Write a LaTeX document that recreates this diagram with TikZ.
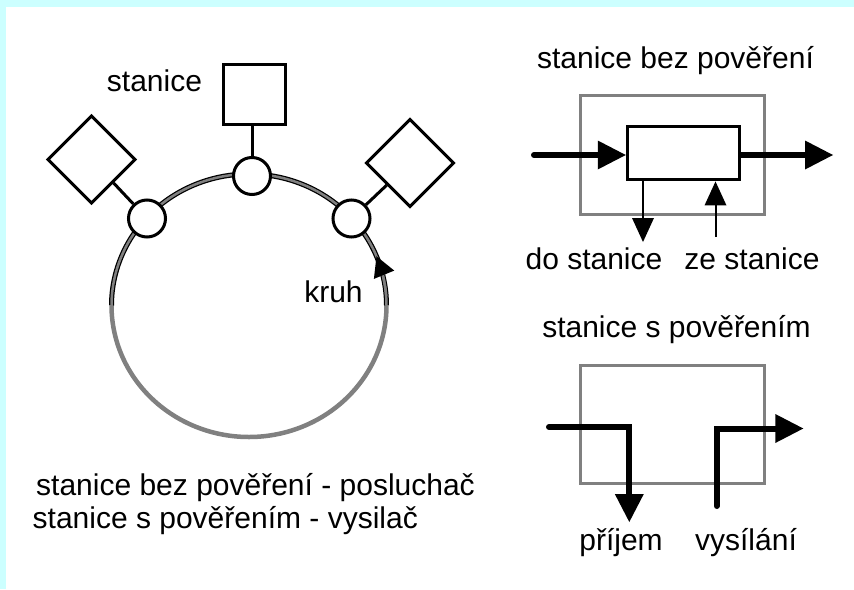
\documentclass[tikz,border=0pt]{standalone}
\usepackage{fontspec}
\setmainfont{Liberation Sans}
\usetikzlibrary{arrows.meta}
\definecolor{bordercyan}{RGB}{204,255,255}
\definecolor{ringgray}{RGB}{128,128,128}
\begin{document}
\begin{tikzpicture}[x=1pt,y=-1pt,
  txt/.style={inner sep=0pt, font=\fontsize{30}{36}\selectfont, anchor=base},
  txtw/.style={inner sep=0pt, font=\fontsize{30}{36}\selectfont, anchor=base west},
  stbox/.style={draw, line width=3pt, fill=white, minimum width=62pt, minimum height=60pt, inner sep=0pt},
  stdiam/.style={draw, line width=3pt, fill=white, minimum width=61.4pt, minimum height=61.4pt, inner sep=0pt, rotate=45},
  tap/.style={circle, draw, line width=3pt, fill=white, minimum size=37pt, inner sep=0pt},
  stem/.style={line width=3pt},
  framebox/.style={draw=ringgray, line width=3pt, inner sep=0pt},
  innerbox/.style={draw, line width=3.5pt, inner sep=0pt},
  fatarrow/.style={line width=6pt, line cap=round, line join=miter, -{Triangle[length=28pt,width=29pt,line width=0pt]}},
  slimarrow/.style={line width=2pt, -{Triangle[length=24pt,width=22pt,line width=0pt]}},
]
\useasboundingbox (0,0) rectangle (854,589);
\fill[white] (0,0) rectangle (854,589);
\fill[bordercyan] (0,0) rectangle (6,589);
\fill[bordercyan] (0,0) rectangle (854,7);

% ring
\draw[ringgray, line width=4.5pt] plot[domain=0:180, samples=91, smooth] ({249+137.5*cos(\x)},{305.5+131.5*sin(\x)});
\draw[black, line width=5pt] plot[domain=180:360, samples=91, smooth] ({249+137.5*cos(\x)},{305.5+131.5*sin(\x)});
\draw[ringgray, line width=2.5pt] plot[domain=178:362, samples=93, smooth] ({249+137.5*cos(\x)},{305.5+131.5*sin(\x)});
\draw[ringgray, line width=2.5pt, -{Triangle[length=20pt,width=22pt,line width=0pt,color=black]}]
  plot[domain=-4:-22, samples=10, smooth] ({249+137.5*cos(\x)},{305.5+131.5*sin(\x)});

% stations
\node[tap] (c1) at (147,218.5) {};
\node[tap] (c2) at (252,176) {};
\node[tap] (c3) at (351.5,218.5) {};
\node[stbox] (sq) at (254.5,94.5) {};
\node[stdiam] (d1) at (91.5,159.5) {};
\node[stdiam] (d3) at (410,163) {};
\draw[stem] (d1) -- (c1);
\draw[stem] (d3) -- (c3);
\draw[stem] (c2.north) -- (c2.north |- sq.south);

\node[txt] (lstanice) at (154.5,91) {stanice};
\node[txt] (lkruh) at (333.5,302) {kruh};

% legend
\node[txtw] (leg1) at (36,495) {stanice bez pověření - posluchač};
\node[txtw] (leg2) at (32.5,528) {stanice s pověřením - vysilač};

% station without token
\node[txt] (t1) at (675.5,68) {stanice bez pověření};
\node[framebox, minimum width=184pt, minimum height=118.8pt] (f1) at (672.5,154.9) {};
\node[innerbox, minimum width=112pt, minimum height=53.4pt] (box) at (683.5,153) {};
\coordinate (inL) at (534,155);
\coordinate (outR) at (833,155);
\draw[fatarrow] (inL) -- (inL -| box.west);
\draw[fatarrow, line cap=butt] (box.east |- outR) -- (outR);
\coordinate (doS) at (643,242);
\coordinate (zeS) at (715.5,237);
\draw[slimarrow] (doS |- box.south) -- (doS);
\draw[slimarrow] (zeS) -- (zeS |- box.south);
\node[txt] (ldo) at (594,269.5) {do stanice};
\node[txt] (lze) at (752,269.5) {ze stanice};

% station with token
\node[txt] (t2) at (676.5,337) {stanice s pověřením};
\node[framebox, minimum width=184pt, minimum height=118.3pt] (f2) at (672.5,424.15) {};
\coordinate (pIn) at (549,427);
\coordinate (pOut) at (629.3,522);
\coordinate (vIn) at (716.7,506);
\coordinate (vOut) at (803.3,428.5);
\draw[fatarrow] (pIn) -| (pOut);
\draw[fatarrow] (vIn) |- (vOut);
\node[txt] (lprijem) at (621,550) {příjem};
\node[txt] (lvys) at (746,550) {vysílání};
\end{tikzpicture}
\end{document}
